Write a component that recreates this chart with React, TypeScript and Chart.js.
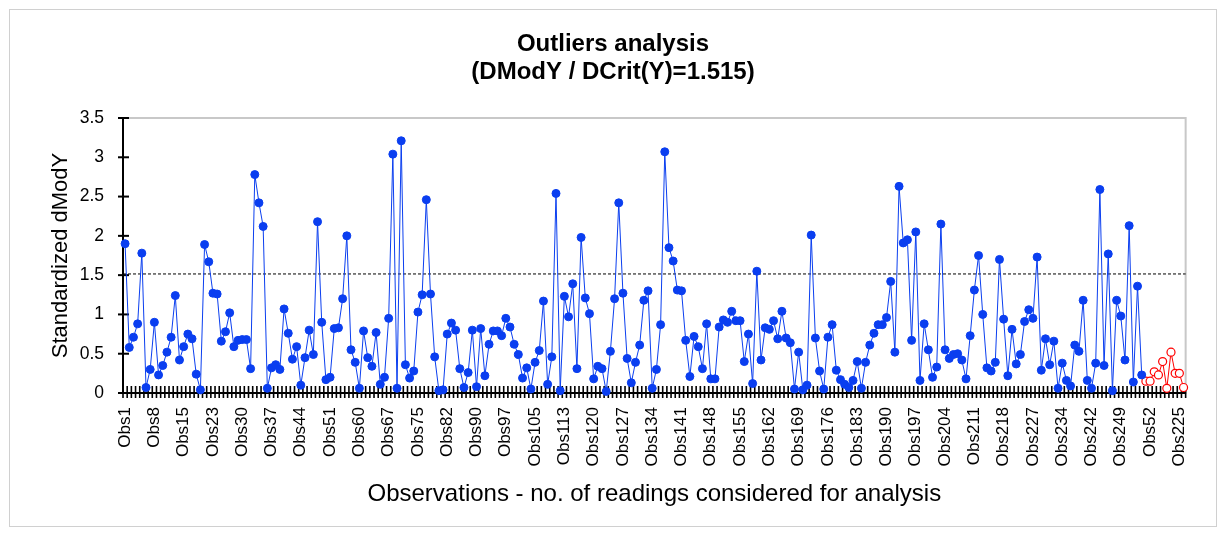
import React, { useEffect, useRef } from "react";
import { Chart, registerables } from "chart.js";

Chart.register(...registerables);

// ---- data ----
const totalObs = 254;
const removedObs = [19, 52, 57, 71, 86, 101, 109, 222, 225, 238];
const keptValues = [
  1.90, 0.58, 0.71, 0.88, 1.78, 0.07, 0.30, 0.90, 0.23, 0.35,
  0.52, 0.71, 1.24, 0.42, 0.59, 0.75, 0.69, 0.24, 0.04, 1.89,
  1.67, 1.27, 1.26, 0.66, 0.78, 1.02, 0.59, 0.67, 0.68, 0.68,
  0.31, 2.78, 2.42, 2.12, 0.06, 0.32, 0.36, 0.30, 1.07, 0.76,
  0.43, 0.59, 0.10, 0.45, 0.80, 0.49, 2.18, 0.90, 0.17, 0.20,
  0.82, 0.83, 1.20, 2.00, 0.55, 0.39, 0.06, 0.79, 0.45, 0.34,
  0.77, 0.11, 0.20, 0.95, 3.04, 0.06, 3.21, 0.36, 0.19, 0.28,
  1.03, 1.25, 2.46, 1.26, 0.46, 0.03, 0.04, 0.75, 0.89, 0.80,
  0.31, 0.07, 0.26, 0.80, 0.08, 0.82, 0.22, 0.62, 0.79, 0.79,
  0.73, 0.95, 0.84, 0.62, 0.49, 0.19, 0.32, 0.05, 0.39, 0.54,
  1.17, 0.11, 0.46, 2.54, 0.03, 1.23, 0.97, 1.39, 0.31, 1.98,
  1.21, 1.01, 0.18, 0.34, 0.31, 0.02, 0.53, 1.20, 2.42, 1.27,
  0.44, 0.13, 0.39, 0.61, 1.18, 1.30, 0.06, 0.30, 0.87, 3.07,
  1.85, 1.68, 1.31, 1.30, 0.67, 0.21, 0.72, 0.59, 0.31, 0.88,
  0.18, 0.18, 0.84, 0.93, 0.90, 1.04, 0.92, 0.92, 0.40, 0.75,
  0.12, 1.55, 0.42, 0.83, 0.81, 0.92, 0.69, 1.04, 0.70, 0.64,
  0.05, 0.52, 0.04, 0.10, 2.01, 0.70, 0.28, 0.05, 0.71, 0.87,
  0.29, 0.17, 0.11, 0.07, 0.16, 0.40, 0.06, 0.39, 0.61, 0.76,
  0.87, 0.87, 0.96, 1.42, 0.52, 2.63, 1.91, 1.95, 0.67, 2.05,
  0.16, 0.88, 0.55, 0.20, 0.33, 2.15, 0.55, 0.44, 0.49, 0.50,
  0.42, 0.18, 0.73, 1.31, 1.75, 1.00, 0.32, 0.28, 0.39, 1.70,
  0.94, 0.22, 0.81, 0.37, 0.49, 0.91, 1.06, 0.95, 1.73, 0.29,
  0.69, 0.36, 0.66, 0.06, 0.38, 0.16, 0.09, 0.61, 0.53, 1.18,
  0.16, 0.06, 0.38, 2.59, 0.35, 1.77, 0.03, 1.18, 0.98, 0.42,
  2.13, 0.14, 1.36, 0.23,
];
const removedValues = [0.15, 0.15, 0.27, 0.23, 0.40, 0.06, 0.52, 0.25, 0.25, 0.07];
const threshold = 1.515;
const labelEvery = 7;
const yMin = 0;
const yMax = 3.5;
const yStep = 0.5;

const titleLines = ["Outliers analysis", "(DModY / DCrit(Y)=1.515)"];
const yTitle = "Standardized dModY";
const xTitle = "Observations - no. of readings considered for analysis";

const keptObs: number[] = [];
for (let n = 1; n <= totalObs; n++) if (!removedObs.includes(n)) keptObs.push(n);
const categories = [...keptObs, ...removedObs].map((n) => `Obs${n}`);
const blueData = [...keptValues, ...removedValues.map(() => null)];
const redData = [...keptValues.map(() => null), ...removedValues];

const FONT = "'Liberation Sans', Arial, sans-serif";

const axesPlugin = {
  id: "excelAxes",
  beforeDraw(chart: any) {
    const { ctx, width, height } = chart;
    ctx.save();
    ctx.fillStyle = "#ffffff";
    ctx.fillRect(0, 0, width, height);
    ctx.strokeStyle = "#d0d0d0";
    ctx.lineWidth = 1;
    ctx.strokeRect(1.5, 1.5, width - 3, height - 3);
    ctx.restore();
  },
  beforeDatasetsDraw(chart: any) {
    const { ctx, chartArea: a, scales } = chart;
    const xs = scales.x;
    const ys = scales.y;
    ctx.save();
    // plot area border
    ctx.strokeStyle = "#c8c8c8";
    ctx.lineWidth = 2;
    ctx.strokeRect(a.left, a.top, a.right - a.left, a.bottom - a.top);
    // threshold line
    const ty = ys.getPixelForValue(threshold);
    ctx.setLineDash([3, 2]);
    ctx.strokeStyle = "#000";
    ctx.lineWidth = 1;
    ctx.beginPath();
    ctx.moveTo(a.left, ty);
    ctx.lineTo(a.right, ty);
    ctx.stroke();
    ctx.setLineDash([]);
    // axis lines
    ctx.strokeStyle = "#000";
    ctx.lineWidth = 2;
    ctx.beginPath();
    ctx.moveTo(a.left, a.top);
    ctx.lineTo(a.left, a.bottom);
    ctx.lineTo(a.right, a.bottom);
    ctx.stroke();
    // y tick marks (cross)
    ctx.lineWidth = 2;
    ys.ticks.forEach((t: any) => {
      const py = ys.getPixelForValue(t.value);
      ctx.beginPath();
      ctx.moveTo(a.left - 5, py);
      ctx.lineTo(a.left + 6, py);
      ctx.stroke();
    });
    // x tick marks between categories (cross)
    const n = chart.data.labels.length;
    const w = xs.getPixelForValue(1) - xs.getPixelForValue(0);
    ctx.lineWidth = 1.6;
    for (let k = 0; k <= n; k++) {
      const px = xs.getPixelForValue(k) - w / 2;
      ctx.beginPath();
      ctx.moveTo(px, a.bottom - 7);
      ctx.lineTo(px, a.bottom + 5);
      ctx.stroke();
    }
    ctx.restore();
  },
};

export default function App() {
  const ref = useRef<HTMLCanvasElement | null>(null);
  useEffect(() => {
    if (!ref.current) return;
    const chart = new Chart(ref.current, {
      type: "line",
      data: {
        labels: categories,
        datasets: [
          {
            data: blueData,
            borderColor: "#0b3ff0",
            borderWidth: 1,
            pointRadius: 4,
            pointBackgroundColor: "#0a3ef0",
            pointBorderColor: "#0a3ef0",
            pointBorderWidth: 1,
            tension: 0,
            spanGaps: false,
            clip: false,
          },
          {
            data: redData,
            borderColor: "#ff0000",
            borderWidth: 1,
            pointRadius: 4,
            pointBackgroundColor: "#ffffff",
            pointBorderColor: "#ff0000",
            pointBorderWidth: 1.2,
            tension: 0,
            spanGaps: false,
            clip: false,
          },
        ],
      } as any,
      options: {
        animation: false,
        responsive: false,
        maintainAspectRatio: false,
        layout: { padding: 0 },
        plugins: {
          legend: { display: false },
          tooltip: { enabled: false },
          title: {
            display: true,
            text: titleLines,
            color: "#000",
            font: { family: FONT, size: 24, weight: "bold", lineHeight: 1.2 },
            padding: { top: 21.6, bottom: 30.8 },
          },
        },
        scales: {
          x: {
            type: "category",
            offset: true,
            grid: { display: false, drawTicks: false },
            border: { display: false },
            ticks: {
              autoSkip: false,
              minRotation: 90,
              maxRotation: 90,
              padding: 14,
              color: "#000",
              font: { family: FONT, size: 17 },
              callback: (_v: any, i: number) => (i % labelEvery === 0 ? categories[i] : ""),
            },
            title: {
              display: true,
              text: xTitle,
              color: "#000",
              font: { family: FONT, size: 24 },
              padding: { top: 0, bottom: 19 },
            },
            afterFit: (s: any) => {
              s.height = 135;
            },
          },
          y: {
            min: yMin,
            max: yMax,
            grid: { display: false, drawTicks: false },
            border: { display: false },
            ticks: {
              stepSize: yStep,
              padding: 19,
              color: "#000",
              font: { family: FONT, size: 17.5 },
              callback: (v: any) => String(v),
            },
            title: {
              display: true,
              text: yTitle,
              color: "#000",
              font: { family: FONT, size: 22 },
              padding: { top: 40, bottom: 0 },
            },
            afterFit: (s: any) => {
              s.width = 115;
            },
          },
          yRight: {
            position: "right",
            display: true,
            grid: { display: false, drawTicks: false },
            border: { display: false },
            ticks: { display: false },
            afterFit: (s: any) => {
              s.width = 26;
            },
          },
        },
      } as any,
      plugins: [axesPlugin],
    });
    return () => chart.destroy();
  }, []);
  return (
    <div style={{ width: 1210, height: 520 }}>
      <canvas ref={ref} width={1210} height={520} />
    </div>
  );
}
